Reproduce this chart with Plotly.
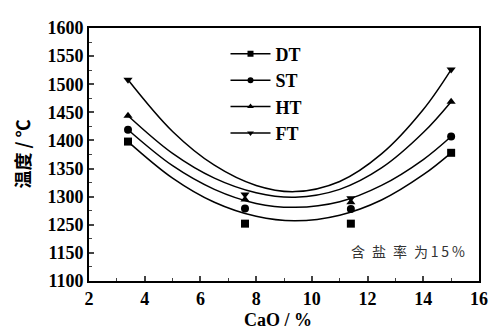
import plotly.graph_objects as go

# Measured points
cao = [3.4, 7.6, 11.4, 15.0]
dt = [1398, 1252, 1252, 1378]
st = [1419, 1279, 1278, 1407]
ht = [1444, 1295, 1290, 1469]
ft = [1508, 1304, 1297, 1526]

# Fitted curves
curve_x = [3.4, 5.0, 6.5, 8.0, 9.4, 11.0, 12.5, 14.0, 15.0]
dt_curve = [1398, 1333, 1290, 1265, 1257, 1267, 1294, 1339, 1378]
st_curve = [1419, 1355, 1313, 1288, 1281, 1291, 1320, 1366, 1407]
ht_curve = [1444, 1377, 1333, 1307, 1299, 1313, 1351, 1414, 1469]
ft_curve = [1508, 1416, 1356, 1320, 1309, 1327, 1376, 1455, 1526]

names = ["DT", "ST", "HT", "FT"]
symbols = ["square", "circle", "triangle-up", "triangle-down"]

# Y tick labels as printed in the figure
y_tickvals = [1150, 1200, 1250, 1300, 1350, 1400, 1450, 1500, 1550, 1600]
y_ticktext = ["1100", "1150", "1250", "1300", "1350", "1400", "1450", "1500", "1550", "1600"]
x_tickvals = [2, 4, 6, 8, 10, 12, 14, 16]

serif = "Liberation Serif"
fig = go.Figure()

for vals, cur, sym, nm in zip([dt, st, ht, ft], [dt_curve, st_curve, ht_curve, ft_curve], symbols, names):
    fig.add_trace(go.Scatter(x=curve_x, y=cur, mode="lines",
                             line=dict(color="black", width=1.5, shape="spline", smoothing=1.0),
                             showlegend=False, hoverinfo="skip"))
    fig.add_trace(go.Scatter(x=cao, y=vals, mode="markers",
                             marker=dict(symbol=sym, size=8, color="black"),
                             showlegend=False))

for sym, nm in zip(symbols, names):
    fig.add_trace(go.Scatter(x=[None], y=[None], mode="lines+markers", name=nm,
                             line=dict(color="black", width=1.5),
                             marker=dict(symbol=sym, size=6, color="black")))

# page body has an 8px margin, so the figure is sized to fit the window
fig.update_layout(
    width=490, height=322,
    margin=dict(l=81, r=10, t=12, b=49),
    paper_bgcolor="white", plot_bgcolor="white",
    font=dict(family=serif, size=18, color="black"),
    showlegend=True,
    legend=dict(x=0.35, y=0.97, xanchor="left", yanchor="top", bgcolor="rgba(0,0,0,0)",
                font=dict(family=serif, size=18, color="black", weight="bold"),
                itemwidth=40, tracegroupgap=0),
    xaxis=dict(range=[2, 16], tickvals=x_tickvals, ticks="inside", ticklen=5, tickwidth=1.5,
               minor=dict(ticks="inside", ticklen=3, dtick=1, tickwidth=1),
               showline=True, linecolor="black", linewidth=2, mirror=True, showgrid=False, zeroline=False,
               tickfont=dict(family=serif, size=18, weight="bold")),
    yaxis=dict(range=[1150, 1600], tickvals=y_tickvals, ticktext=y_ticktext, ticks="inside", ticklen=5, tickwidth=1.5,
               minor=dict(ticks="inside", ticklen=3, dtick=25, tickwidth=1),
               showline=True, linecolor="black", linewidth=2, mirror=True, showgrid=False, zeroline=False,
               tickfont=dict(family=serif, size=18, weight="bold")),
)

# axis titles
fig.add_annotation(x=0.484, y=0, xref="paper", yref="paper", xanchor="center", yanchor="middle",
                   yshift=-39, text="CaO / %", showarrow=False,
                   font=dict(family=serif, size=18, weight="bold", color="black"))
fig.add_annotation(x=0, y=0.5, xref="paper", yref="paper", xanchor="center", yanchor="middle",
                   xshift=-68, text="温度 / ℃", textangle=-90, showarrow=False,
                   font=dict(family="Noto Sans CJK SC", size=18, weight="bold", color="black"))

fig.add_annotation(x=0.819, y=0.118, xref="paper", yref="paper", xanchor="center", yanchor="middle",
                   text="含\u2002盐\u2002率\u2002为\u20091\u20095\u2009%", showarrow=False,
                   font=dict(family="Noto Sans CJK SC", size=14, color="#333"))

fig.write_html("out.html")
